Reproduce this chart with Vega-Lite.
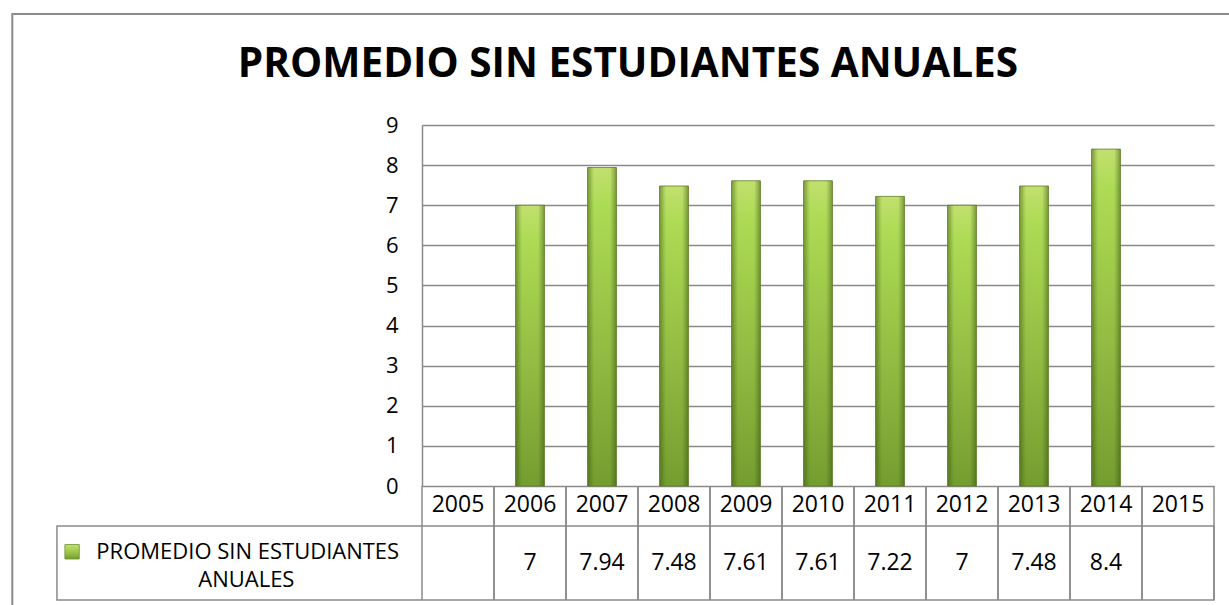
{
  "$schema": "https://vega.github.io/schema/vega-lite/v6.json",
  "width": 792,
  "height": 361,
  "autosize": {"type": "none"},
  "padding": {"left": 422, "top": 125, "right": 15, "bottom": 119},
  "background": "white",
  "config": {
    "view": {"stroke": null},
    "font": "Open Sans",
    "scale": {"bandPaddingInner": 0, "bandPaddingOuter": 0}
  },
  "datasets": {
    "main": [
      {"year": "2005", "value": null},
      {"year": "2006", "value": 7},
      {"year": "2007", "value": 7.94},
      {"year": "2008", "value": 7.48},
      {"year": "2009", "value": 7.61},
      {"year": "2010", "value": 7.61},
      {"year": "2011", "value": 7.22},
      {"year": "2012", "value": 7},
      {"year": "2013", "value": 7.48},
      {"year": "2014", "value": 8.4},
      {"year": "2015", "value": null}
    ],
    "one": [{"line1": "PROMEDIO SIN ESTUDIANTES", "line2": "ANUALES", "title": "PROMEDIO SIN ESTUDIANTES ANUALES"}]
  },
  "resolve": {"scale": {"x": "independent"}},
  "layer": [
    {
      "data": {"name": "main"},
      "mark": {"type": "bar", "width": {"band": 0.4}, "stroke": "#5f8226", "strokeWidth": 0.8,
        "color": {"gradient": "linear", "x1": 0, "y1": 0, "x2": 0, "y2": 1,
          "stops": [
            {"offset": 0, "color": "#c2e06e"},
            {"offset": 0.12, "color": "#addb55"},
            {"offset": 0.55, "color": "#93bd43"},
            {"offset": 1, "color": "#749d30"}
          ]}},
      "encoding": {
        "x": {"field": "year", "type": "nominal", "sort": null, "scale": {"domain": ["2005","2006","2007","2008","2009","2010","2011","2012","2013","2014","2015"]}, "axis": null},
        "y": {"field": "value", "type": "quantitative",
          "scale": {"domain": [0, 9], "nice": false, "zero": false},
          "axis": {"values": [0, 1, 2, 3, 4, 5, 6, 7, 8, 9], "title": null, "grid": true,
            "gridColor": "#8a8a8a", "gridWidth": 1.5, "domain": true, "domainColor": "#8a8a8a",
            "domainWidth": 1.5, "ticks": false, "labelPadding": 24, "labelFontSize": 22,
            "labelColor": "#000000", "labelFont": "Open Sans"}}
      }
    },
    {
      "data": {"name": "main"},
      "mark": {"type": "bar", "width": {"band": 0.4},
        "color": {"gradient": "linear", "x1": 0, "y1": 0, "x2": 1, "y2": 0,
          "stops": [
            {"offset": 0, "color": "rgba(45,70,10,0.45)"},
            {"offset": 0.22, "color": "rgba(45,70,10,0)"},
            {"offset": 0.78, "color": "rgba(45,70,10,0)"},
            {"offset": 1, "color": "rgba(45,70,10,0.45)"}
          ]}},
      "encoding": {
        "x": {"field": "year", "type": "nominal", "sort": null, "scale": {"domain": ["2005","2006","2007","2008","2009","2010","2011","2012","2013","2014","2015"]}, "axis": null},
        "y": {"field": "value", "type": "quantitative", "scale": {"domain": [0, 9], "nice": false, "zero": false}}
      }
    },
    {
      "data": {"name": "one"},
      "mark": {"type": "rect", "fill": null, "stroke": "#8a8a8a", "strokeWidth": 2},
      "encoding": {
        "x": {"datum": -5.69, "type": "quantitative", "scale": {"domain": [0, 11]}, "axis": null},
        "x2": {"datum": 11.3},
        "y": {"datum": 11.77, "type": "quantitative", "scale": {"domain": [0, 9], "nice": false, "zero": false}},
        "y2": {"datum": -3.5}
      }
    },
    {
      "data": {"name": "one"},
      "mark": {"type": "rect", "fill": null, "stroke": "#8a8a8a", "strokeWidth": 1.5},
      "encoding": {
        "x": {"datum": -5.07, "type": "quantitative", "scale": {"domain": [0, 11]}, "axis": null},
        "x2": {"datum": 11},
        "y": {"datum": -1, "type": "quantitative", "scale": {"domain": [0, 9], "nice": false, "zero": false}},
        "y2": {"datum": -2.84}
      }
    },
    {
      "data": {"name": "main"},
      "mark": {"type": "rule", "stroke": "#8a8a8a", "strokeWidth": 1.5},
      "encoding": {
        "x": {"field": "year", "type": "nominal", "sort": null, "bandPosition": 0, "scale": {"type": "band"}, "axis": null},
        "y": {"datum": 0, "type": "quantitative", "scale": {"domain": [0, 9], "nice": false, "zero": false}},
        "y2": {"datum": -2.84}
      }
    },
    {
      "data": {"name": "main"},
      "mark": {"type": "rule", "stroke": "#8a8a8a", "strokeWidth": 1.5},
      "encoding": {
        "x": {"field": "year", "type": "nominal", "sort": null, "bandPosition": 1, "scale": {"type": "band"}, "axis": null},
        "y": {"datum": 0, "type": "quantitative", "scale": {"domain": [0, 9], "nice": false, "zero": false}},
        "y2": {"datum": -2.84}
      }
    },
    {
      "data": {"name": "main"},
      "mark": {"type": "text", "fontSize": 23, "color": "#000000", "baseline": "middle", "align": "center"},
      "encoding": {
        "x": {"field": "year", "type": "nominal", "sort": null, "axis": null},
        "y": {"datum": -0.47, "type": "quantitative", "scale": {"domain": [0, 9], "nice": false, "zero": false}},
        "text": {"field": "year", "type": "nominal"}
      }
    },
    {
      "data": {"name": "main"},
      "transform": [{"filter": "isValid(datum.value)"}],
      "mark": {"type": "text", "fontSize": 23, "color": "#000000", "baseline": "middle", "align": "center"},
      "encoding": {
        "x": {"field": "year", "type": "nominal", "sort": null, "scale": {"domain": ["2005","2006","2007","2008","2009","2010","2011","2012","2013","2014","2015"]}, "axis": null},
        "y": {"datum": -1.92, "type": "quantitative", "scale": {"domain": [0, 9], "nice": false, "zero": false}},
        "text": {"field": "value", "type": "nominal"}
      }
    },
    {
      "data": {"name": "one"},
      "mark": {"type": "rect", "stroke": "#6c8f2a", "strokeWidth": 0.8,
        "color": {"gradient": "linear", "x1": 0, "y1": 0, "x2": 0, "y2": 1,
          "stops": [
            {"offset": 0, "color": "#c2e06e"},
            {"offset": 0.5, "color": "#9ec84a"},
            {"offset": 1, "color": "#749d30"}
          ]}},
      "encoding": {
        "x": {"datum": -4.96, "type": "quantitative", "scale": {"domain": [0, 11]}, "axis": null},
        "x2": {"datum": -4.76},
        "y": {"datum": -1.46, "type": "quantitative", "scale": {"domain": [0, 9], "nice": false, "zero": false}},
        "y2": {"datum": -1.82}
      }
    },
    {
      "data": {"name": "one"},
      "mark": {"type": "text", "fontSize": 22, "color": "#000000", "baseline": "middle", "align": "center"},
      "encoding": {
        "x": {"datum": -2.42, "type": "quantitative", "scale": {"domain": [0, 11]}, "axis": null},
        "y": {"datum": -1.64, "type": "quantitative", "scale": {"domain": [0, 9], "nice": false, "zero": false}},
        "text": {"field": "line1", "type": "nominal"}
      }
    },
    {
      "data": {"name": "one"},
      "mark": {"type": "text", "fontSize": 22, "color": "#000000", "baseline": "middle", "align": "center"},
      "encoding": {
        "x": {"datum": -2.44, "type": "quantitative", "scale": {"domain": [0, 11]}, "axis": null},
        "y": {"datum": -2.35, "type": "quantitative", "scale": {"domain": [0, 9], "nice": false, "zero": false}},
        "text": {"field": "line2", "type": "nominal"}
      }
    },
    {
      "data": {"name": "one"},
      "mark": {"type": "text", "fontSize": 40.5, "fontWeight": "bold", "color": "#000000", "baseline": "alphabetic", "align": "center"},
      "encoding": {
        "x": {"datum": 2.86, "type": "quantitative", "scale": {"domain": [0, 11]}, "axis": null},
        "y": {"datum": 10.2, "type": "quantitative", "scale": {"domain": [0, 9], "nice": false, "zero": false}},
        "text": {"field": "title", "type": "nominal"}
      }
    }
  ]
}
